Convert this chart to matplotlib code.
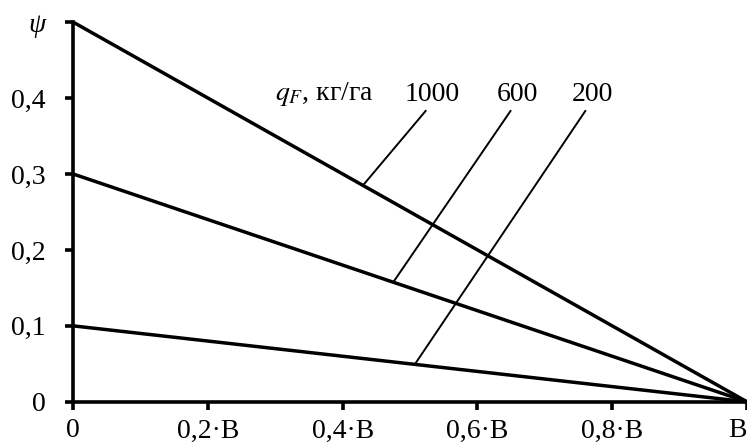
import matplotlib.pyplot as plt

# Data
q_values = [1000, 600, 200]          # кг/га
psi_start = [0.5, 0.3, 0.1]          # psi at x = 0
x_ends = [0.0, 1.0]                  # 0 .. B
x_ticks = [0, 0.2, 0.4, 0.6, 0.8, 1.0]
x_labels = ["0", "0,2·B", "0,4·B", "0,6·B", "0,8·B", "B"]
y_ticks = [0, 0.1, 0.2, 0.3, 0.4, 0.5]
y_labels = ["0", "0,1", "0,2", "0,3", "0,4", "ψ"]

# label positions (x on the line, label centre)
touch_x = [0.43, 0.475, 0.507]
label_x = [0.533, 0.659, 0.770]
label_y = 0.405

plt.rcParams["font.family"] = ["Liberation Serif", "DejaVu Serif"]
plt.rcParams["font.size"] = 20

fig = plt.figure(figsize=(7.47, 4.43), dpi=100)
ax = fig.add_axes([0.098, 0.093, 0.902, 0.857])

for p0 in psi_start:
    ax.plot(x_ends, [p0, 0], color="black", lw=2.5, solid_capstyle="butt", clip_on=False)

for q, p0, tx, lx in zip(q_values, psi_start, touch_x, label_x):
    ty = p0 * (1 - tx)
    ax.plot([lx - 0.01, tx], [label_y - 0.022, ty], color="black", lw=1.4)
    ax.text(lx, label_y, str(q), ha="center", va="center", fontsize=20)

ax.text(0.30, label_y, r"$q_F$, кг/га", ha="left", va="center", fontsize=20,
        math_fontfamily="stix")

ax.set_xlim(0, 1)
ax.set_ylim(0, 0.5)
ax.set_xticks(x_ticks)
ax.set_xticklabels(x_labels)
ax.set_yticks(y_ticks)
ax.set_yticklabels(y_labels)
ax.get_yticklabels()[-1].set_style("italic")
ax.get_xticklabels()[-1].set_horizontalalignment("right")

for s in ["top", "right"]:
    ax.spines[s].set_visible(False)
for s in ["left", "bottom"]:
    ax.spines[s].set_linewidth(2.6)
ax.tick_params(direction="out", width=2.6, length=6, labelsize=20)
ax.tick_params(axis="x", pad=6)
ax.tick_params(axis="y", pad=14)

fig.savefig("out.png", dpi=100)
